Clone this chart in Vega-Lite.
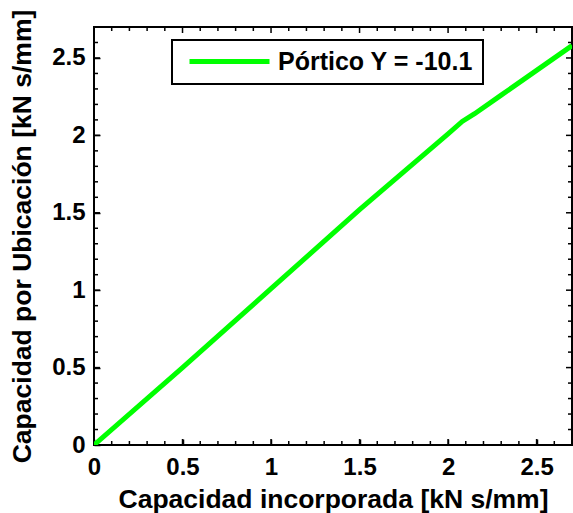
{
  "$schema": "https://vega.github.io/schema/vega-lite/v6.json",
  "width": 478,
  "height": 418,
  "autosize": {"type": "none"},
  "padding": {"left": 94, "top": 27, "right": 1, "bottom": 68},
  "background": "white",
  "config": {
    "view": {"stroke": "black", "strokeWidth": 2},
    "font": "Liberation Sans",
    "axis": {"domain": false, "grid": false, "labelColor": "black", "titleColor": "black"},
    "legend": {"strokeColor": "black", "fillColor": "white", "padding": 9, "strokeWidth": 2}
  },
  "datasets": {
    "ticks": [
      {"v": 0.1, "kind": "minor"}, {"v": 0.2, "kind": "minor"}, {"v": 0.3, "kind": "minor"}, {"v": 0.4, "kind": "minor"}, {"v": 0.5, "kind": "major"},
      {"v": 0.6, "kind": "minor"}, {"v": 0.7, "kind": "minor"}, {"v": 0.8, "kind": "minor"}, {"v": 0.9, "kind": "minor"}, {"v": 1.0, "kind": "major"},
      {"v": 1.1, "kind": "minor"}, {"v": 1.2, "kind": "minor"}, {"v": 1.3, "kind": "minor"}, {"v": 1.4, "kind": "minor"}, {"v": 1.5, "kind": "major"},
      {"v": 1.6, "kind": "minor"}, {"v": 1.7, "kind": "minor"}, {"v": 1.8, "kind": "minor"}, {"v": 1.9, "kind": "minor"}, {"v": 2.0, "kind": "major"},
      {"v": 2.1, "kind": "minor"}, {"v": 2.2, "kind": "minor"}, {"v": 2.3, "kind": "minor"}, {"v": 2.4, "kind": "minor"}, {"v": 2.5, "kind": "major"},
      {"v": 2.6, "kind": "minor"}
    ],
    "curve": [
      {"x": 0, "y": 0, "serie": "Pórtico Y = -10.1"},
      {"x": 0.5, "y": 0.5, "serie": "Pórtico Y = -10.1"},
      {"x": 1.0, "y": 1.01, "serie": "Pórtico Y = -10.1"},
      {"x": 1.5, "y": 1.52, "serie": "Pórtico Y = -10.1"},
      {"x": 2.0, "y": 2.01, "serie": "Pórtico Y = -10.1"},
      {"x": 2.08, "y": 2.09, "serie": "Pórtico Y = -10.1"},
      {"x": 2.15, "y": 2.14, "serie": "Pórtico Y = -10.1"},
      {"x": 2.3, "y": 2.26, "serie": "Pórtico Y = -10.1"},
      {"x": 2.5, "y": 2.42, "serie": "Pórtico Y = -10.1"},
      {"x": 2.7, "y": 2.58, "serie": "Pórtico Y = -10.1"}
    ]
  },
  "layer": [
    {
      "data": {"name": "curve"},
      "mark": {"type": "line", "strokeWidth": 5, "clip": true},
      "encoding": {
        "x": {
          "field": "x", "type": "quantitative",
          "scale": {"domain": [0, 2.7], "nice": false, "zero": false},
          "axis": {
            "orient": "bottom",
            "offset": -6,
            "values": [0, 0.5, 1, 1.5, 2, 2.5],
            "format": "~g",
            "ticks": true, "tickColor": "#000000", "tickWidth": 1.5,
            "tickSize": 6,
            "labelFontSize": 24,
            "labelFontWeight": "bold",
            "labelPadding": 10,
            "labelFlush": false,
            "title": "Capacidad incorporada [kN s/mm]",
            "titleFontSize": 26.5,
            "titleFontWeight": "bold",
            "titlePadding": 7
          }
        },
        "y": {
          "field": "y", "type": "quantitative",
          "scale": {"domain": [0, 2.7], "nice": false, "zero": false},
          "axis": {
            "orient": "left",
            "offset": -6,
            "values": [0, 0.5, 1, 1.5, 2, 2.5],
            "format": "~g",
            "ticks": true, "tickColor": "#000000", "tickWidth": 1.5,
            "tickSize": 6,
            "labelFontSize": 24,
            "labelFontWeight": "bold",
            "labelPadding": 9,
            "labelFlush": false,
            "title": "Capacidad por Ubicación [kN s/mm]",
            "titleFontSize": 26.5,
            "titleFontWeight": "bold",
            "titlePadding": 15
          }
        },
        "color": {
          "field": "serie", "type": "nominal",
          "scale": {"range": ["#00ff00"]},
          "legend": {
            "orient": "none",
            "legendX": 78,
            "legendY": 13,
            "title": null,
            "symbolType": "stroke",
            "symbolSize": 6400,
            "symbolStrokeWidth": 5,
            "symbolOffset": 6,
            "clipHeight": 25,
            "labelFontSize": 25,
            "labelFontWeight": "bold",
            "labelColor": "black",
            "labelOffset": 6,
            "labelLimit": 400
          }
        }
      }
    },
    {
      "data": {"name": "ticks"},
      "mark": {"type": "tick", "orient": "vertical", "thickness": 1.5, "color": "black", "opacity": 1, "clip": true},
      "encoding": {
        "x": {"field": "v", "type": "quantitative", "axis": null},
        "y": {"datum": 0, "type": "quantitative", "axis": null},
        "size": {"field": "kind", "type": "nominal", "scale": {"domain": ["major", "minor"], "range": [12, 8]}, "legend": null}
      }
    },
    {
      "data": {"name": "ticks"},
      "mark": {"type": "tick", "orient": "vertical", "thickness": 1.5, "color": "black", "opacity": 1, "clip": true},
      "encoding": {
        "x": {"field": "v", "type": "quantitative", "axis": null},
        "y": {"datum": 2.7, "type": "quantitative", "axis": null},
        "size": {"field": "kind", "type": "nominal", "legend": null}
      }
    },
    {
      "data": {"name": "ticks"},
      "mark": {"type": "tick", "orient": "horizontal", "thickness": 1.5, "color": "black", "opacity": 1, "clip": true},
      "encoding": {
        "y": {"field": "v", "type": "quantitative", "axis": null},
        "x": {"datum": 0, "type": "quantitative", "axis": null},
        "size": {"field": "kind", "type": "nominal", "legend": null}
      }
    },
    {
      "data": {"name": "ticks"},
      "mark": {"type": "tick", "orient": "horizontal", "thickness": 1.5, "color": "black", "opacity": 1, "clip": true},
      "encoding": {
        "y": {"field": "v", "type": "quantitative", "axis": null},
        "x": {"datum": 2.7, "type": "quantitative", "axis": null},
        "size": {"field": "kind", "type": "nominal", "legend": null}
      }
    }
  ],
  "resolve": {"axis": {"x": "independent", "y": "independent"}}
}
